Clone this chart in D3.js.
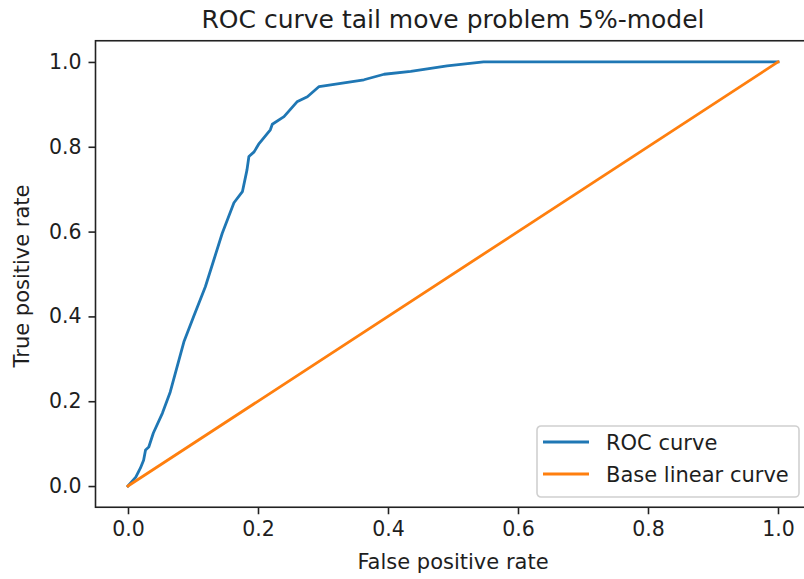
<!DOCTYPE html>
<html>
<head>
<meta charset="utf-8">
<script src="https://cdn.jsdelivr.net/npm/d3@7"></script>
<style>
  html, body { margin: 0; padding: 0; background: #fff; }
  svg { display: block; font-family: "DejaVu Sans", sans-serif; }
</style>
</head>
<body>
<svg id="chart" width="804" height="579"></svg>
<script>
// ROC curve: false positive rate vs true positive rate
const rocFpr = [0, 0.012, 0.019, 0.024, 0.027, 0.032, 0.039, 0.053, 0.065, 0.086, 0.101, 0.119,
  0.132, 0.145, 0.163, 0.176, 0.183, 0.186, 0.194, 0.201, 0.219, 0.222, 0.240, 0.260, 0.276,
  0.294, 0.312, 0.363, 0.394, 0.435, 0.491, 0.547, 1.0];
const rocTpr = [0, 0.021, 0.042, 0.061, 0.085, 0.092, 0.125, 0.172, 0.222, 0.340, 0.400, 0.470,
  0.533, 0.596, 0.668, 0.694, 0.745, 0.777, 0.788, 0.806, 0.840, 0.853, 0.871, 0.906, 0.918,
  0.942, 0.946, 0.958, 0.971, 0.978, 0.991, 1.0, 1.0];

// Diagonal reference line
const baseFpr = [0, 1];
const baseTpr = [0, 1];

const xTicks = [0, 0.2, 0.4, 0.6, 0.8, 1.0];
const yTicks = [0, 0.2, 0.4, 0.6, 0.8, 1.0];

const titleText = "ROC curve tail move problem 5%-model";
const xLabel = "False positive rate";
const yLabel = "True positive rate";
const seriesNames = ["ROC curve", "Base linear curve"];
const seriesColors = ["#1f77b4", "#ff7f0e"];

const svg = d3.select("#chart");
const plotLeft = 95.5, plotRight = 810.5, plotTop = 40.75, plotBottom = 507.25;
const textColor = "#1e1e1e";

const x = d3.scaleLinear().domain([-0.05, 1.05]).range([plotLeft, plotRight]);
const y = d3.scaleLinear().domain([-0.05, 1.05]).range([plotBottom, plotTop]);

const line = d3.line().x(d => x(d[0])).y(d => y(d[1]));

const series = [
  d3.zip(rocFpr, rocTpr),
  d3.zip(baseFpr, baseTpr)
];

svg.append("g")
  .selectAll("path")
  .data(series)
  .join("path")
  .attr("d", line)
  .attr("fill", "none")
  .attr("stroke", (d, i) => seriesColors[i])
  .attr("stroke-width", 2.8)
  .attr("stroke-linejoin", "round")
  .attr("stroke-linecap", "square");

// Axes
const fmt = d3.format(".1f");
const xAxis = svg.append("g")
  .attr("transform", `translate(0,${plotBottom})`)
  .call(d3.axisBottom(x).tickValues(xTicks).tickFormat(fmt).tickSize(7).tickPadding(7));
const yAxis = svg.append("g")
  .attr("transform", `translate(${plotLeft},0)`)
  .call(d3.axisLeft(y).tickValues(yTicks).tickFormat(fmt).tickSize(7).tickPadding(7));

[xAxis, yAxis].forEach(g => {
  g.select(".domain").remove();
  g.selectAll(".tick line").attr("stroke", "#222").attr("stroke-width", 1.6);
  g.selectAll(".tick text").attr("fill", textColor).attr("font-size", 20.5)
    .attr("font-family", "DejaVu Sans");
});

// Frame
svg.append("rect")
  .attr("x", plotLeft).attr("y", plotTop)
  .attr("width", plotRight - plotLeft).attr("height", plotBottom - plotTop)
  .attr("fill", "none").attr("stroke", "#222").attr("stroke-width", 1.6);

// Title and axis labels
svg.append("text")
  .attr("x", (plotLeft + plotRight) / 2).attr("y", 28)
  .attr("text-anchor", "middle").attr("font-size", 25).attr("fill", textColor)
  .text(titleText);

svg.append("text")
  .attr("x", (plotLeft + plotRight) / 2).attr("y", 569)
  .attr("text-anchor", "middle").attr("font-size", 21).attr("fill", textColor)
  .text(xLabel);

svg.append("text")
  .attr("transform", `translate(29,${(plotTop + plotBottom) / 2 + 2}) rotate(-90)`)
  .attr("text-anchor", "middle").attr("font-size", 21).attr("fill", textColor)
  .text(yLabel);

// Legend
const legend = svg.append("g").attr("transform", "translate(537,426)");
legend.append("rect")
  .attr("width", 262).attr("height", 71).attr("rx", 4)
  .attr("fill", "#fff").attr("fill-opacity", 0.8)
  .attr("stroke", "#d0d0d0").attr("stroke-width", 1.6);

const items = legend.selectAll("g.item")
  .data(seriesNames)
  .join("g")
  .attr("class", "item")
  .attr("transform", (d, i) => `translate(0,${16 + i * 32})`);
items.append("line")
  .attr("x1", 6).attr("x2", 52)
  .attr("stroke", (d, i) => seriesColors[i]).attr("stroke-width", 2.8);
items.append("text")
  .attr("x", 69).attr("y", 8)
  .attr("font-size", 21).attr("fill", textColor)
  .text(d => d);
</script>
</body>
</html>
